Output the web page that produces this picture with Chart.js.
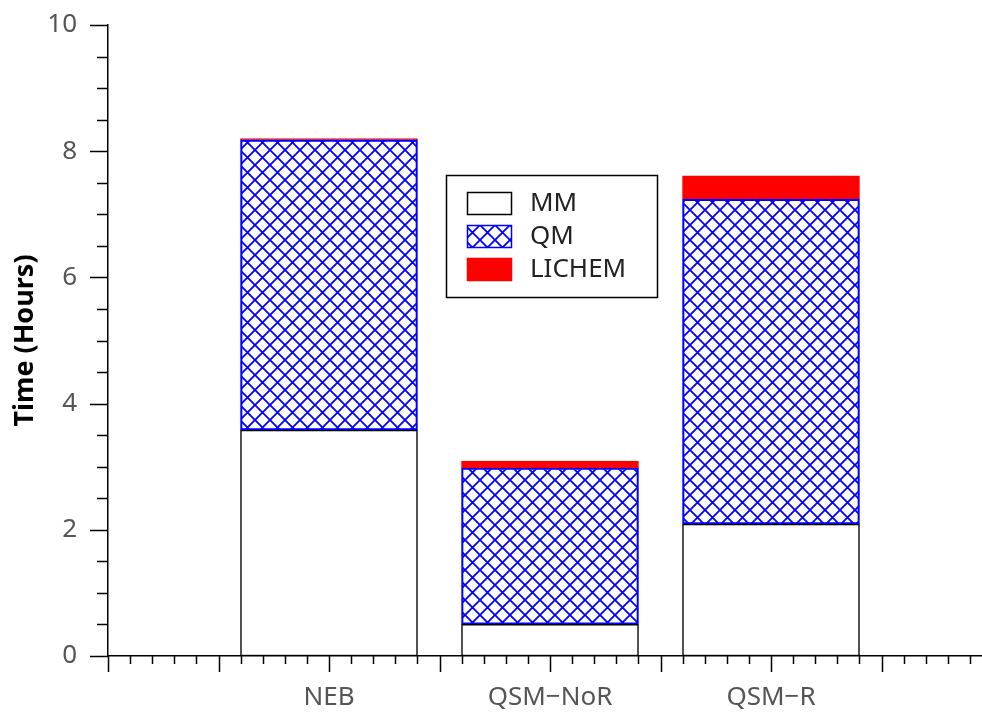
<!DOCTYPE html>
<html lang="en">
<head>
  <meta charset="UTF-8">
  <title>Time breakdown</title>
  <style>
    html, body {
      margin: 0;
      padding: 0;
      background: #ffffff;
      overflow: hidden;
    }
    .chart-box {
      width: 992px;
      height: 713px;
    }
  </style>
</head>
<body>
  <div class="chart-box">
    <canvas id="timeChart" width="992" height="713"></canvas>
  </div>

  <script src="https://cdn.jsdelivr.net/npm/chart.js"></script>
  <script>
    // Data
    const categories = ["NEB", "QSM\u2212NoR", "QSM\u2212R"];
    const xPositions = [1, 2, 3];
    const mmHours = [3.58, 0.5, 2.09];
    const qmHours = [4.6, 2.48, 5.15];
    const lichemHours = [0.02, 0.11, 0.37];

    const FONT = "'Noto Sans', 'DejaVu Sans', sans-serif";

    // Blue cross-hatch used for the QM part
    function makeHatch() {
      const c = document.createElement("canvas");
      c.width = 15;
      c.height = 15;
      const g = c.getContext("2d");
      g.strokeStyle = "#0000ff";
      g.lineWidth = 1.8;
      g.beginPath();
      g.moveTo(-2, -2); g.lineTo(17, 17);
      g.moveTo(17, -2); g.lineTo(-2, 17);
      g.stroke();
      return g.createPattern(c, "repeat");
    }
    const hatch = makeHatch();

    function points(values) {
      return values.map((v, i) => ({ x: xPositions[i], y: v }));
    }

    // Tick marks: long for major, short for minor, drawn from the scales
    const tickMarks = {
      id: "tickMarks",
      afterDraw(chart) {
        const ctx = chart.ctx;
        const xs = chart.scales.x;
        const ys = chart.scales.y;
        ctx.save();
        ctx.strokeStyle = "#000";
        ctx.lineWidth = 1.5;
        ctx.beginPath();
        xs.ticks.forEach((t, i) => {
          const px = Math.round(xs.getPixelForTick(i)) + 0.5;
          const major = Math.abs(t.value * 2 - Math.round(t.value * 2)) < 1e-6;
          ctx.moveTo(px, xs.top);
          ctx.lineTo(px, xs.top + (major ? 16 : 8));
        });
        ys.ticks.forEach((t, i) => {
          const py = Math.round(ys.getPixelForTick(i)) + 0.5;
          const major = Math.abs(t.value / 2 - Math.round(t.value / 2)) < 1e-6;
          ctx.moveTo(ys.right, py);
          ctx.lineTo(ys.right - (major ? 18 : 11), py);
        });
        ctx.stroke();
        ctx.restore();
      }
    };

    // Boxed legend inside the plot
    const boxLegend = {
      id: "boxLegend",
      afterDraw(chart) {
        const ctx = chart.ctx;
        const area = chart.chartArea;
        const left = area.left + 338;
        const top = area.top + 150;
        const w = 211;
        const h = 122;
        ctx.save();
        ctx.fillStyle = "#fff";
        ctx.fillRect(left, top, w, h);
        ctx.strokeStyle = "#000";
        ctx.lineWidth = 1.5;
        ctx.strokeRect(left + 0.5, top + 0.5, w, h);
        ctx.font = "26px " + FONT;
        ctx.textBaseline = "middle";
        chart.data.datasets.forEach((ds, i) => {
          const sy = top + 17 + i * 33;
          ctx.fillStyle = ds.backgroundColor;
          ctx.fillRect(left + 21, sy, 44, 22);
          ctx.strokeStyle = ds.borderColor;
          ctx.lineWidth = 1.5;
          ctx.strokeRect(left + 21.5, sy + 0.5, 44, 22);
          ctx.fillStyle = "#222";
          ctx.fillText(ds.label, left + 84, sy + 12);
        });
        ctx.restore();
      }
    };

    const ctx = document.getElementById("timeChart").getContext("2d");
    new Chart(ctx, {
      type: "bar",
      data: {
        datasets: [
          {
            label: "MM",
            data: points(mmHours),
            backgroundColor: "#ffffff",
            borderColor: "#000000",
            borderWidth: 1.5,
            borderSkipped: false,
            stack: "t"
          },
          {
            label: "QM",
            data: points(qmHours),
            backgroundColor: hatch,
            borderColor: "#0000ff",
            borderWidth: 1.5,
            borderSkipped: false,
            stack: "t"
          },
          {
            label: "LICHEM",
            data: points(lichemHours),
            backgroundColor: "#ff0000",
            borderColor: "#ff0000",
            borderWidth: 1,
            borderSkipped: false,
            stack: "t"
          }
        ]
      },
      options: {
        responsive: false,
        animation: false,
        barThickness: 177,
        layout: { padding: { top: 25, right: 0, left: 0, bottom: 0 } },
        plugins: {
          legend: { display: false },
          tooltip: { enabled: false }
        },
        scales: {
          x: {
            type: "linear",
            offset: false,
            min: 0,
            max: 4,
            grid: { display: false, drawTicks: false },
            border: { display: true, color: "#000", width: 1.5 },
            ticks: {
              stepSize: 0.1,
              autoSkip: false,
              maxRotation: 0,
              padding: 26,
              color: "#555",
              font: { family: FONT, size: 26 },
              callback: (v) => {
                const k = xPositions.findIndex((p) => Math.abs(p - v) < 1e-6);
                return k >= 0 ? categories[k] : "";
              }
            },
            afterFit: (scale) => {
              scale.height = 57;
              scale.paddingLeft = 0;
              scale.paddingRight = 0;
            }
          },
          y: {
            stacked: true,
            min: 0,
            max: 10,
            grid: { display: false, drawTicks: false },
            border: { display: true, color: "#000", width: 1.5 },
            ticks: {
              stepSize: 0.5,
              autoSkip: false,
              padding: 31,
              color: "#555",
              font: { family: FONT, size: 26 },
              callback: (v) => (Math.abs(v / 2 - Math.round(v / 2)) < 1e-6 ? String(v) : "")
            },
            title: {
              display: true,
              text: "Time (Hours)",
              color: "#000",
              font: { family: FONT, size: 27, weight: "bold" },
              padding: { top: 9, bottom: 0 }
            },
            afterFit: (scale) => {
              scale.width = 108;
              scale.paddingTop = 0;
              scale.paddingBottom = 0;
            }
          }
        }
      },
      plugins: [tickMarks, boxLegend]
    });
  </script>
</body>
</html>
